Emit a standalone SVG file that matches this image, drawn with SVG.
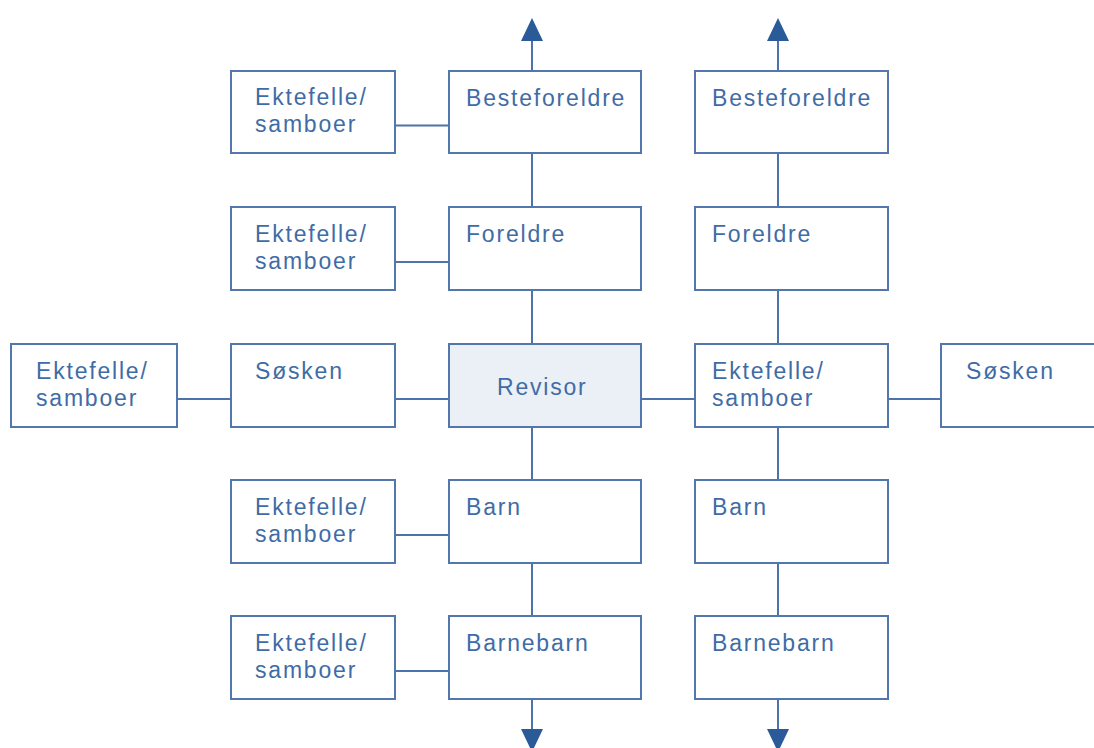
<svg xmlns="http://www.w3.org/2000/svg" width="1094" height="748" viewBox="0 0 1094 748">
  <defs>
    <style>
      .box { fill: #ffffff; stroke: #5277ac; stroke-width: 2; }
      .focus { fill: #ebeff6; }
      .lbl { font-family: "Liberation Sans", Arial, sans-serif; font-size: 23px; letter-spacing: 1.8px; fill: #3f6ca6; }
      .wire { stroke: #4d74aa; stroke-width: 2; fill: none; }
      .head { fill: #2a5a98; }
    </style>
  </defs>
  <rect width="1094" height="748" fill="#ffffff"/>

  <!-- connectors -->
  <g id="connectors">
    <!-- central lineage column -->
    <line class="wire" x1="532" y1="38" x2="532" y2="71"/>
    <line class="wire" x1="532" y1="153" x2="532" y2="207"/>
    <line class="wire" x1="532" y1="290" x2="532" y2="344"/>
    <line class="wire" x1="532" y1="427" x2="532" y2="480"/>
    <line class="wire" x1="532" y1="563" x2="532" y2="616"/>
    <line class="wire" x1="532" y1="699" x2="532" y2="731"/>
    <polygon class="head" points="532,18 543,41 521,41"/>
    <polygon class="head" points="521,729 543,729 532,752"/>

    <!-- partner's lineage column -->
    <line class="wire" x1="778" y1="38" x2="778" y2="71"/>
    <line class="wire" x1="778" y1="153" x2="778" y2="207"/>
    <line class="wire" x1="778" y1="290" x2="778" y2="344"/>
    <line class="wire" x1="778" y1="427" x2="778" y2="480"/>
    <line class="wire" x1="778" y1="563" x2="778" y2="616"/>
    <line class="wire" x1="778" y1="699" x2="778" y2="731"/>
    <polygon class="head" points="778,18 789,41 767,41"/>
    <polygon class="head" points="767,729 789,729 778,752"/>

    <!-- spouse links -->
    <line class="wire" x1="395" y1="125.5" x2="449" y2="125.5"/>
    <line class="wire" x1="395" y1="262" x2="449" y2="262"/>
    <line class="wire" x1="177" y1="399" x2="231" y2="399"/>
    <line class="wire" x1="395" y1="399" x2="449" y2="399"/>
    <line class="wire" x1="641" y1="399" x2="695" y2="399"/>
    <line class="wire" x1="888" y1="399" x2="941" y2="399"/>
    <line class="wire" x1="395" y1="535" x2="449" y2="535"/>
    <line class="wire" x1="395" y1="671" x2="449" y2="671"/>
  </g>

  <!-- row 1 -->
  <g id="spouse-grandparents">
    <rect class="box" x="231" y="71" width="164" height="82"/>
    <text class="lbl" x="255" y="105">Ektefelle/</text>
    <text class="lbl" x="255" y="132">samboer</text>
  </g>
  <g id="grandparents">
    <rect class="box" x="449" y="71" width="192" height="82"/>
    <text class="lbl" x="466" y="106">Besteforeldre</text>
  </g>
  <g id="partner-grandparents">
    <rect class="box" x="695" y="71" width="193" height="82"/>
    <text class="lbl" x="712" y="106">Besteforeldre</text>
  </g>

  <!-- row 2 -->
  <g id="spouse-parents">
    <rect class="box" x="231" y="207" width="164" height="83"/>
    <text class="lbl" x="255" y="242">Ektefelle/</text>
    <text class="lbl" x="255" y="269">samboer</text>
  </g>
  <g id="parents">
    <rect class="box" x="449" y="207" width="192" height="83"/>
    <text class="lbl" x="466" y="242">Foreldre</text>
  </g>
  <g id="partner-parents">
    <rect class="box" x="695" y="207" width="193" height="83"/>
    <text class="lbl" x="712" y="242">Foreldre</text>
  </g>

  <!-- row 3 -->
  <g id="spouse-siblings">
    <rect class="box" x="11" y="344" width="166" height="83"/>
    <text class="lbl" x="36" y="379">Ektefelle/</text>
    <text class="lbl" x="36" y="406">samboer</text>
  </g>
  <g id="siblings">
    <rect class="box" x="231" y="344" width="164" height="83"/>
    <text class="lbl" x="255" y="379">Søsken</text>
  </g>
  <g id="auditor">
    <rect class="box focus" x="449" y="344" width="192" height="83"/>
    <text class="lbl" x="497" y="395">Revisor</text>
  </g>
  <g id="spouse">
    <rect class="box" x="695" y="344" width="193" height="83"/>
    <text class="lbl" x="712" y="379">Ektefelle/</text>
    <text class="lbl" x="712" y="406">samboer</text>
  </g>
  <g id="partner-siblings">
    <rect class="box" x="941" y="344" width="170" height="83"/>
    <text class="lbl" x="966" y="379">Søsken</text>
  </g>

  <!-- row 4 -->
  <g id="spouse-children">
    <rect class="box" x="231" y="480" width="164" height="83"/>
    <text class="lbl" x="255" y="515">Ektefelle/</text>
    <text class="lbl" x="255" y="542">samboer</text>
  </g>
  <g id="children">
    <rect class="box" x="449" y="480" width="192" height="83"/>
    <text class="lbl" x="466" y="515">Barn</text>
  </g>
  <g id="partner-children">
    <rect class="box" x="695" y="480" width="193" height="83"/>
    <text class="lbl" x="712" y="515">Barn</text>
  </g>

  <!-- row 5 -->
  <g id="spouse-grandchildren">
    <rect class="box" x="231" y="616" width="164" height="83"/>
    <text class="lbl" x="255" y="651">Ektefelle/</text>
    <text class="lbl" x="255" y="678">samboer</text>
  </g>
  <g id="grandchildren">
    <rect class="box" x="449" y="616" width="192" height="83"/>
    <text class="lbl" x="466" y="651">Barnebarn</text>
  </g>
  <g id="partner-grandchildren">
    <rect class="box" x="695" y="616" width="193" height="83"/>
    <text class="lbl" x="712" y="651">Barnebarn</text>
  </g>
</svg>
